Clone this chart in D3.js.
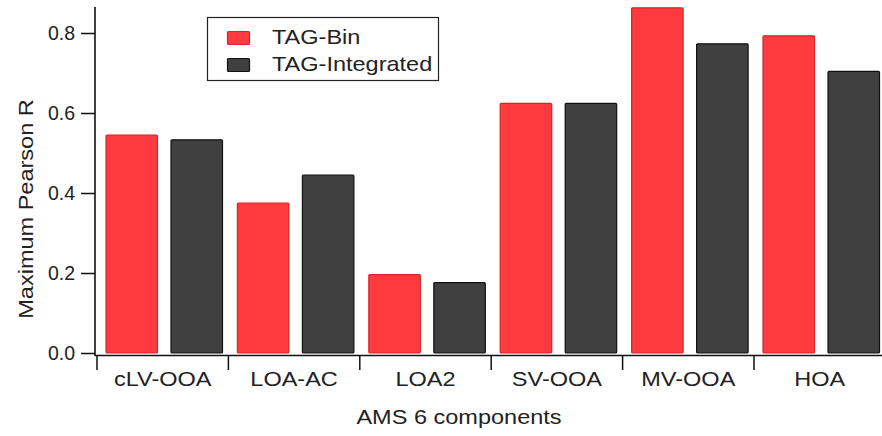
<!DOCTYPE html>
<html>
<head>
<meta charset="utf-8">
<script src="https://cdn.jsdelivr.net/npm/d3@7"></script>
<style>
  body { margin: 0; background: #fff; }
  text { font-family: "Liberation Sans", Arial, sans-serif; fill: #222; }
</style>
</head>
<body>
<div id="chart"></div>
<script>
var categories = ["cLV-OOA", "LOA-AC", "LOA2", "SV-OOA", "MV-OOA", "HOA"];
var series = ["TAG-Bin", "TAG-Integrated"];
var tagBin = [0.545, 0.375, 0.196, 0.624, 0.863, 0.793];
var tagIntegrated = [0.533, 0.445, 0.176, 0.624, 0.773, 0.704];
var yTicks = [0, 0.2, 0.4, 0.6, 0.8];

var colors = { "TAG-Bin": "#fd3a3e", "TAG-Integrated": "#404040" };
var strokes = { "TAG-Bin": "#d4262b", "TAG-Integrated": "#111" };

var rows = categories.map(function(c, i) {
  return { cat: c, values: [
    { key: "TAG-Bin", v: tagBin[i] },
    { key: "TAG-Integrated", v: tagIntegrated[i] }
  ]};
});

var W = 882, H = 436;
var wide = "scale(1.12,1)"; // the original lettering is a bit wider than Arial

var svg = d3.select("#chart").append("svg")
  .attr("width", W)
  .attr("height", H);

var x0 = d3.scaleBand()
  .domain(categories)
  .range([97, 97 + 6 * 131.4]);

var x1 = d3.scaleBand()
  .domain(series)
  .range([8.5, 126])
  .paddingInner(0.1923);

var y = d3.scaleLinear()
  .domain([0, 0.865])
  .range([353, 7]);

// bars
svg.append("g").selectAll("g")
  .data(rows)
  .enter().append("g")
  .attr("transform", function(d) { return "translate(" + x0(d.cat) + ",0)"; })
  .selectAll("rect")
  .data(function(d) { return d.values; })
  .enter().append("rect")
  .attr("x", function(d) { return x1(d.key) + 0.5; })
  .attr("y", function(d) { return y(d.v); })
  .attr("width", x1.bandwidth() - 1)
  .attr("height", function(d) { return y(0) - y(d.v); })
  .attr("rx", 1)
  .attr("fill", function(d) { return colors[d.key]; })
  .attr("stroke", function(d) { return strokes[d.key]; })
  .attr("stroke-width", 1.2);

// y axis
var yAxis = svg.append("g")
  .attr("transform", "translate(95,0)")
  .call(d3.axisLeft(y).tickValues(yTicks).tickFormat(d3.format(".1f")).tickSize(14).tickPadding(6));
yAxis.select(".domain").remove();
yAxis.selectAll("line").attr("stroke", "#111").attr("stroke-width", 1.5);
yAxis.selectAll("text").attr("font-size", "19.5px").attr("fill", "#222");

svg.append("line")
  .attr("x1", 95).attr("x2", 95)
  .attr("y1", 7).attr("y2", 356)
  .attr("stroke", "#111").attr("stroke-width", 1.6);

// x axis
var xAxis = svg.append("g")
  .attr("transform", "translate(0,355)")
  .call(d3.axisBottom(x0).tickSize(0).tickPadding(16));
xAxis.select(".domain").remove();
xAxis.selectAll("text")
  .attr("font-size", "21px")
  .attr("fill", "#222")
  .attr("transform", wide);

svg.append("line")
  .attr("x1", 95).attr("x2", W)
  .attr("y1", 355.5).attr("y2", 355.5)
  .attr("stroke", "#111").attr("stroke-width", 1.6);

svg.append("g").selectAll("line")
  .data(categories)
  .enter().append("line")
  .attr("x1", function(d) { return x0(d); })
  .attr("x2", function(d) { return x0(d); })
  .attr("y1", 356)
  .attr("y2", 370)
  .attr("stroke", "#111")
  .attr("stroke-width", 1.5);

// axis titles
svg.append("text")
  .attr("transform", "translate(459,424) " + wide)
  .attr("text-anchor", "middle")
  .attr("font-size", "21px")
  .text("AMS 6 components");

svg.append("text")
  .attr("transform", "translate(33,209) rotate(-90) " + wide)
  .attr("text-anchor", "middle")
  .attr("font-size", "21px")
  .text("Maximum Pearson R");

// legend
var legend = svg.append("g");
legend.append("rect")
  .attr("x", 207.5).attr("y", 17.5)
  .attr("width", 231).attr("height", 63)
  .attr("fill", "#fff")
  .attr("stroke", "#222")
  .attr("stroke-width", 1.2);

var item = legend.selectAll("g.item")
  .data(series)
  .enter().append("g")
  .attr("class", "item")
  .attr("transform", function(d, i) { return "translate(0," + (i * 27) + ")"; });

item.append("rect")
  .attr("x", 227.5).attr("y", 31.5)
  .attr("width", 22).attr("height", 13)
  .attr("rx", 1)
  .attr("fill", function(d) { return colors[d]; })
  .attr("stroke", function(d) { return strokes[d]; })
  .attr("stroke-width", 1.2);

item.append("text")
  .attr("transform", "translate(272,44) " + wide)
  .attr("font-size", "21px")
  .text(function(d) { return d; });
</script>
</body>
</html>
